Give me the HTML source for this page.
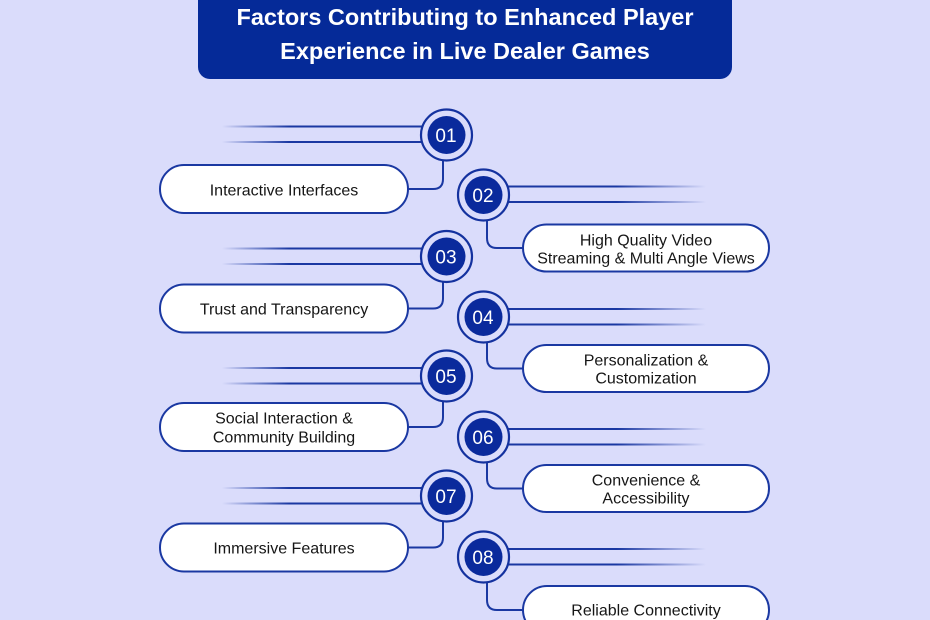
<!DOCTYPE html>
<html>
<head>
<meta charset="utf-8">
<style>
html,body{margin:0;padding:0;background:#DADCFB;}
body{width:930px;height:620px;overflow:hidden;font-family:"Liberation Sans",Arial,sans-serif;}
svg{display:block;}
.pt{font-family:"Liberation Sans",Arial,sans-serif;font-size:16px;fill:#161616;text-anchor:middle;}
.num{font-family:"Liberation Sans",Arial,sans-serif;font-size:19px;fill:#fff;text-anchor:middle;}
.ttl{font-family:"Liberation Sans",Arial,sans-serif;font-size:23.5px;font-weight:bold;fill:#fff;text-anchor:middle;}
</style>
</head>
<body>
<svg width="930" height="620" viewBox="0 0 930 620" xmlns="http://www.w3.org/2000/svg">
<defs>
<linearGradient id="gl" gradientUnits="userSpaceOnUse" x1="222" y1="0" x2="446" y2="0">
<stop offset="0" stop-color="#1A38A2" stop-opacity="0"/>
<stop offset="0.3" stop-color="#1A38A2" stop-opacity="1"/>
<stop offset="1" stop-color="#1A38A2" stop-opacity="1"/>
</linearGradient>
<linearGradient id="gr" gradientUnits="userSpaceOnUse" x1="483" y1="0" x2="706" y2="0">
<stop offset="0" stop-color="#1A38A2" stop-opacity="1"/>
<stop offset="0.6" stop-color="#1A38A2" stop-opacity="1"/>
<stop offset="1" stop-color="#1A38A2" stop-opacity="0"/>
</linearGradient>
</defs>
<rect width="930" height="620" fill="#DADCFB"/>

<!-- Title -->
<rect x="198" y="-20" width="534" height="99" rx="12" fill="#052A98"/>
<text class="ttl" x="465" y="25">Factors Contributing to Enhanced Player</text>
<text class="ttl" x="465" y="59">Experience in Live Dealer Games</text>

<g stroke-width="2" fill="none">
<g stroke="url(#gl)">
<line x1="222" y1="126.5" x2="446" y2="126.5"/><line x1="222" y1="142" x2="446" y2="142"/>
<line x1="222" y1="248.5" x2="446" y2="248.5"/><line x1="222" y1="264" x2="446" y2="264"/>
<line x1="222" y1="368" x2="446" y2="368"/><line x1="222" y1="383.5" x2="446" y2="383.5"/>
<line x1="222" y1="488" x2="446" y2="488"/><line x1="222" y1="503.5" x2="446" y2="503.5"/>
</g>
<g stroke="url(#gr)">
<line x1="483" y1="186.5" x2="706" y2="186.5"/><line x1="483" y1="202" x2="706" y2="202"/>
<line x1="483" y1="309" x2="706" y2="309"/><line x1="483" y1="324.5" x2="706" y2="324.5"/>
<line x1="483" y1="429" x2="706" y2="429"/><line x1="483" y1="444.5" x2="706" y2="444.5"/>
<line x1="483" y1="549" x2="706" y2="549"/><line x1="483" y1="564.5" x2="706" y2="564.5"/>
</g>
<g stroke="#1A38A2">
<path d="M443,160 V179 Q443,189 433,189 H407"/>
<path d="M443,282 V298.5 Q443,308.5 433,308.5 H407"/>
<path d="M443,401 V417 Q443,427 433,427 H407"/>
<path d="M443,521 V537.5 Q443,547.5 433,547.5 H407"/>
<path d="M487,220 V238 Q487,248 497,248 H523"/>
<path d="M487,342 V358.5 Q487,368.5 497,368.5 H523"/>
<path d="M487,462 V478.5 Q487,488.5 497,488.5 H523"/>
<path d="M487,582 V600 Q487,610 497,610 H523"/>
</g>
<g stroke="#1A38A2" fill="#fff">
<rect x="160" y="165" width="248" height="48" rx="24"/>
<rect x="160" y="284.5" width="248" height="48" rx="24"/>
<rect x="160" y="403" width="248" height="48" rx="24"/>
<rect x="160" y="523.5" width="248" height="48" rx="24"/>
<rect x="523" y="224.5" width="246" height="47" rx="23.5"/>
<rect x="523" y="345" width="246" height="47" rx="23.5"/>
<rect x="523" y="465" width="246" height="47" rx="23.5"/>
<rect x="523" y="586" width="246" height="48" rx="24"/>
</g>
<g stroke="#14329F" stroke-width="2.2" fill="#DADCFB">
<circle cx="446.5" cy="135" r="25.5"/>
<circle cx="483.5" cy="195" r="25.5"/>
<circle cx="446.5" cy="256.5" r="25.5"/>
<circle cx="483.5" cy="317" r="25.5"/>
<circle cx="446.5" cy="376" r="25.5"/>
<circle cx="483.5" cy="437" r="25.5"/>
<circle cx="446.5" cy="496" r="25.5"/>
<circle cx="483.5" cy="557" r="25.5"/>
</g>
</g>
<g fill="#0A2A9C">
<circle cx="446.5" cy="135" r="19"/>
<circle cx="483.5" cy="195" r="19"/>
<circle cx="446.5" cy="256.5" r="19"/>
<circle cx="483.5" cy="317" r="19"/>
<circle cx="446.5" cy="376" r="19"/>
<circle cx="483.5" cy="437" r="19"/>
<circle cx="446.5" cy="496" r="19"/>
<circle cx="483.5" cy="557" r="19"/>
</g>
<text class="num" x="446" y="142">01</text>
<text class="num" x="483" y="202">02</text>
<text class="num" x="446" y="263.5">03</text>
<text class="num" x="483" y="324">04</text>
<text class="num" x="446" y="383">05</text>
<text class="num" x="483" y="444">06</text>
<text class="num" x="446" y="503">07</text>
<text class="num" x="483" y="564">08</text>

<text class="pt" x="284" y="195.5">Interactive Interfaces</text>
<text class="pt" x="646" y="245.5">High Quality Video</text>
<text class="pt" x="646" y="263.5">Streaming &amp; Multi Angle Views</text>
<text class="pt" x="284" y="314.5">Trust and Transparency</text>
<text class="pt" x="646" y="365.5">Personalization &amp;</text>
<text class="pt" x="646" y="383.5">Customization</text>
<text class="pt" x="284" y="423.5">Social Interaction &amp;</text>
<text class="pt" x="284" y="442.5">Community Building</text>
<text class="pt" x="646" y="485.5">Convenience &amp;</text>
<text class="pt" x="646" y="503.5">Accessibility</text>
<text class="pt" x="284" y="553.5">Immersive Features</text>
<text class="pt" x="646" y="615.5">Reliable Connectivity</text>
</svg>
</body>
</html>
